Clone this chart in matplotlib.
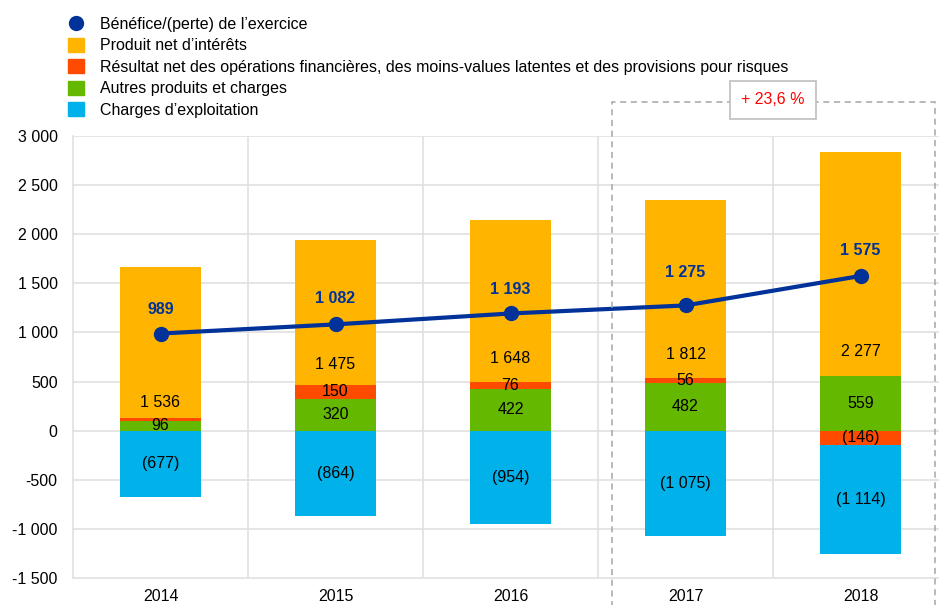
import matplotlib.pyplot as plt
from matplotlib.patches import Rectangle
from matplotlib.lines import Line2D

plt.rcParams['font.family'] = ['Liberation Sans', 'DejaVu Sans']

# data (EUR millions)
years = ['2014', '2015', '2016', '2017', '2018']
produit_net = [1536, 1475, 1648, 1812, 2277]
resultat_net = [34, 150, 76, 56, -146]
autres = [96, 320, 422, 482, 559]
charges = [-677, -864, -954, -1075, -1114]
benefice = [989, 1082, 1193, 1275, 1575]
orange_label_y = [285, 672, 733, 774, 804]
net_offsets = [17, 19, 17, 24, 18]

c_orange = '#FFB400'
c_red = '#FF4B00'
c_green = '#65B800'
c_blue = '#00B1EA'
c_navy = '#003299'


def fmt(v):
    s = f'{abs(v):,}'.replace(',', ' ')
    return f'({s})' if v < 0 else s


fig = plt.figure(figsize=(9.39, 6.05), dpi=100)
ax = fig.add_axes([73 / 939, 27 / 605, 1 - 73 / 939, 442 / 605])

x = range(len(years))
w = 0.46
pos_bottom = [0] * len(years)
neg_bottom = [0] * len(years)

# green first on the positive side
ax.bar(x, autres, w, color=c_green, zorder=2)
for i, v in enumerate(autres):
    pos_bottom[i] += v

# red: stacked above green when positive, below zero when negative
red_bottoms = []
for i, v in enumerate(resultat_net):
    if v >= 0:
        red_bottoms.append(pos_bottom[i])
        pos_bottom[i] += v
    else:
        red_bottoms.append(neg_bottom[i])
        neg_bottom[i] += v
ax.bar(x, resultat_net, w, bottom=red_bottoms, color=c_red, zorder=2)

orange_bottoms = list(pos_bottom)
ax.bar(x, produit_net, w, bottom=orange_bottoms, color=c_orange, zorder=2)

blue_bottoms = list(neg_bottom)
ax.bar(x, charges, w, bottom=blue_bottoms, color=c_blue, zorder=2)

fs = 11.5
for i in x:
    ax.text(i, autres[i] / 2, fmt(autres[i]), ha='center', va='center', fontsize=fs, zorder=4)
    if abs(resultat_net[i]) > 40:
        ax.text(i, red_bottoms[i] + resultat_net[i] / 2, fmt(resultat_net[i]),
                ha='center', va='center', fontsize=fs, zorder=4)
    ax.text(i, orange_label_y[i], fmt(produit_net[i]), ha='center', va='center', fontsize=fs, zorder=4)
    ax.text(i, blue_bottoms[i] + charges[i] / 2, fmt(charges[i]), ha='center', va='center', fontsize=fs, zorder=4)

ax.plot(x, benefice, color=c_navy, lw=3, marker='o', ms=10, zorder=5)
for i, v in enumerate(benefice):
    ax.annotate(fmt(v), (i, v), xytext=(0, net_offsets[i]), textcoords='offset points',
                ha='center', va='center', fontsize=fs, fontweight='bold', color=c_navy, zorder=6)

ax.set_ylim(-1500, 3000)
ax.set_xlim(-0.5, 4.5 - 9 / 175)
ax.set_yticks(range(-1500, 3001, 500))
ax.set_yticklabels([fmt(t).replace('(', '-').replace(')', '') for t in range(-1500, 3001, 500)])
ax.set_xticks(list(x))
ax.set_xticklabels(years)
ax.tick_params(length=0, labelsize=fs, pad=8)
ax.tick_params(axis='y', pad=11)
for t in range(-1000, 3001, 500):
    ax.axhline(t, color='#e0e0e0', lw=1.2, zorder=1)
for b in [0.5, 1.5, 2.5, 3.5]:
    ax.axvline(b, color='#e0e0e0', lw=1.2, zorder=1)
for s in ['top', 'right']:
    ax.spines[s].set_visible(False)
ax.spines['left'].set_color('#e0e0e0')
ax.spines['bottom'].set_color('#e0e0e0')
ax.spines['left'].set_linewidth(1.2)
ax.spines['bottom'].set_linewidth(1.2)

# dashed box around 2017-2018
box = Rectangle((612 / 939, -0.02), (935 - 612) / 939, (605 - 102) / 605 + 0.02,
                transform=fig.transFigure, fill=False, ls=(0, (4, 3)), lw=1.1,
                edgecolor='#a6a6a6', zorder=1)
fig.add_artist(box)
fig.text(773 / 939, 1 - 100 / 605, '+ 23,6 %', color='#FF0000', fontsize=fs,
         ha='center', va='center',
         bbox=dict(boxstyle='square,pad=0.7', fc='white', ec='#bfbfbf', lw=1.2))

handles = [
    Line2D([], [], marker='o', ls='none', color=c_navy, ms=10),
    Rectangle((0, 0), 1, 1, color=c_orange),
    Rectangle((0, 0), 1, 1, color=c_red),
    Rectangle((0, 0), 1, 1, color=c_green),
    Rectangle((0, 0), 1, 1, color=c_blue),
]
labels = [
    'Bénéfice/(perte) de l\u2019exercice',
    'Produit net d\u2019intérêts',
    'Résultat net des opérations financières, des moins-values latentes et des provisions pour risques',
    'Autres produits et charges',
    'Charges d\u2019exploitation',
]
fig.legend(handles, labels, loc='upper left', bbox_to_anchor=(62 / 939, 1 - 10 / 605),
           frameon=False, fontsize=fs, handlelength=0.95, handleheight=0.95,
           handletextpad=1.05, labelspacing=0.38, borderaxespad=0)

fig.savefig('out.png', dpi=100)
